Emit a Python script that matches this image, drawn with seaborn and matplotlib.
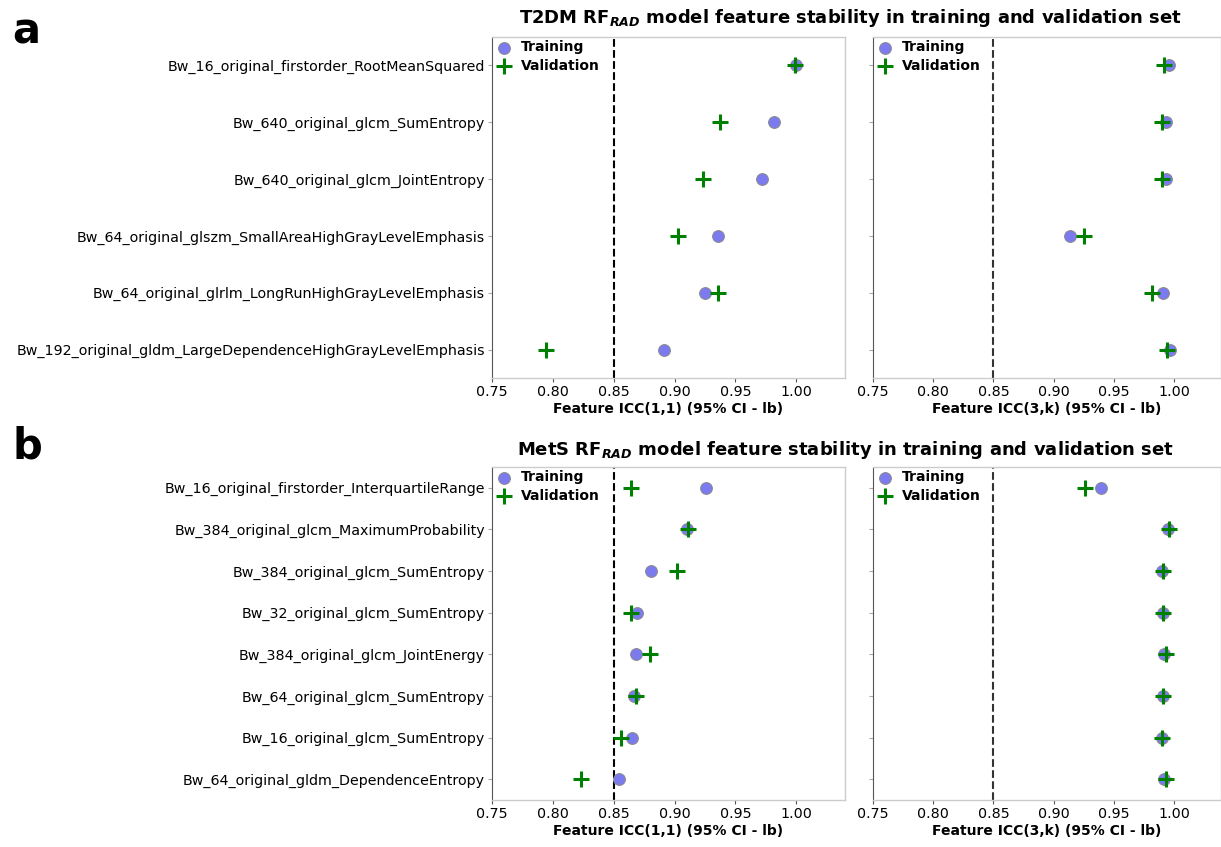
import matplotlib
matplotlib.use("Agg")
import matplotlib.pyplot as plt
import seaborn as sns
import pandas as pd

# ---- Data ----
t2dm_features = [
    "Bw_16_original_firstorder_RootMeanSquared",
    "Bw_640_original_glcm_SumEntropy",
    "Bw_640_original_glcm_JointEntropy",
    "Bw_64_original_glszm_SmallAreaHighGrayLevelEmphasis",
    "Bw_64_original_glrlm_LongRunHighGrayLevelEmphasis",
    "Bw_192_original_gldm_LargeDependenceHighGrayLevelEmphasis",
]
t2dm_icc11_train = [1.000, 0.982, 0.972, 0.936, 0.925, 0.891]
t2dm_icc11_val = [0.999, 0.937, 0.923, 0.903, 0.936, 0.794]
t2dm_icc3k_train = [0.996, 0.993, 0.993, 0.914, 0.991, 0.997]
t2dm_icc3k_val = [0.992, 0.990, 0.990, 0.925, 0.982, 0.994]

mets_features = [
    "Bw_16_original_firstorder_InterquartileRange",
    "Bw_384_original_glcm_MaximumProbability",
    "Bw_384_original_glcm_SumEntropy",
    "Bw_32_original_glcm_SumEntropy",
    "Bw_384_original_glcm_JointEnergy",
    "Bw_64_original_glcm_SumEntropy",
    "Bw_16_original_glcm_SumEntropy",
    "Bw_64_original_gldm_DependenceEntropy",
]
mets_icc11_train = [0.926, 0.910, 0.881, 0.869, 0.868, 0.867, 0.865, 0.854]
mets_icc11_val = [0.864, 0.911, 0.902, 0.864, 0.880, 0.868, 0.856, 0.823]
mets_icc3k_train = [0.939, 0.995, 0.990, 0.991, 0.992, 0.991, 0.990, 0.992]
mets_icc3k_val = [0.926, 0.996, 0.991, 0.991, 0.993, 0.991, 0.990, 0.993]

x_ticks = [0.75, 0.80, 0.85, 0.90, 0.95, 1.00]
threshold = 0.85

titles = [
    r"T2DM RF$_{\mathbfit{RAD}}$ model feature stability in training and validation set",
    r"MetS RF$_{\mathbfit{RAD}}$ model feature stability in training and validation set",
]
xlabels = ["Feature ICC(1,1) (95% CI - lb)", "Feature ICC(3,k) (95% CI - lb)"]

# ---- Plot ----
sns.set_style("ticks")
plt.rcParams["font.family"] = ["DejaVu Sans"]
plt.rcParams.update({"text.color": "black", "axes.labelcolor": "black",
                     "xtick.color": "black", "ytick.color": "black"})

W, H = 1221, 847
fig = plt.figure(figsize=(W / 100, H / 100), dpi=100)


def px_axes(x0, y0, x1, y1):
    return fig.add_axes([x0 / W, 1 - y1 / H, (x1 - x0) / W, (y1 - y0) / H])


panels = [
    (t2dm_features, t2dm_icc11_train, t2dm_icc11_val, t2dm_icc3k_train, t2dm_icc3k_val, 37, 378),
    (mets_features, mets_icc11_train, mets_icc11_val, mets_icc3k_train, mets_icc3k_val, 467, 800),
]

for p, (feats, tr1, va1, tr3, va3, ytop, ybot) in enumerate(panels):
    axL = px_axes(492, ytop, 845, ybot)
    axR = px_axes(873, ytop, 1221, ybot)
    for k, (ax, tr, va) in enumerate([(axL, tr1, va1), (axR, tr3, va3)]):
        df_t = pd.DataFrame({"feature": feats, "icc": tr})
        df_v = pd.DataFrame({"feature": feats, "icc": va})
        sns.stripplot(data=df_t, x="icc", y="feature", order=feats, jitter=False,
                      ax=ax, color="#7b7bef", size=8.5, linewidth=0.7,
                      edgecolor="#888888", label="Training", zorder=3)
        sns.stripplot(data=df_v, x="icc", y="feature", order=feats, jitter=False,
                      ax=ax, color="green", marker="+", size=12, linewidth=2.2,
                      label="Validation", zorder=4)
        ax.axvline(threshold, color="black" if k == 0 else "#333333",
                   linestyle="--", linewidth=1.5, zorder=1)
        ax.set_xlim(0.75, 1.04 if k == 0 else 1.039)
        ax.set_ylim(len(feats) - 0.5, -0.5)
        ax.set_xticks(x_ticks)
        ax.set_xticklabels([f"{v:.2f}" for v in x_ticks], fontsize=10.3)
        ax.set_xlabel(xlabels[k], fontsize=10, fontweight="bold", labelpad=2)
        ax.set_ylabel("")
        ax.set_yticks(range(len(feats)))
        if k == 0:
            ax.set_yticklabels(feats, fontsize=10.3)
        else:
            ax.set_yticklabels([])
        for s in ["top", "right", "bottom"]:
            ax.spines[s].set_color("#cccccc")
            ax.spines[s].set_linewidth(1.0)
        ax.spines["left"].set_color("#555555")
        ax.tick_params(axis="y", length=3, color="#aaaaaa", pad=2)
        ax.tick_params(axis="x", length=3, color="#555555", pad=2)
        h, l = ax.get_legend_handles_labels()
        ax.legend(h[:1] + h[len(feats):len(feats) + 1] if len(h) > 2 else h,
                  ["Training", "Validation"], loc="upper left", frameon=False,
                  prop={"weight": "bold", "size": 10}, handletextpad=0.6,
                  borderaxespad=0.0, labelspacing=0.3, handlelength=1.2,
                  borderpad=0.25)

fig.text(850 / W, 1 - 18 / H, titles[0], ha="center", va="center",
         fontsize=13, fontweight="bold")
fig.text(845 / W, 1 - 450 / H, titles[1], ha="center", va="center",
         fontsize=13, fontweight="bold")
fig.text(12 / W, 1 - 32 / H, "a", ha="left", va="center", fontsize=30, fontweight="bold")
fig.text(12 / W, 1 - 446 / H, "b", ha="left", va="center", fontsize=30, fontweight="bold")

fig.savefig("out.png", dpi=100)
